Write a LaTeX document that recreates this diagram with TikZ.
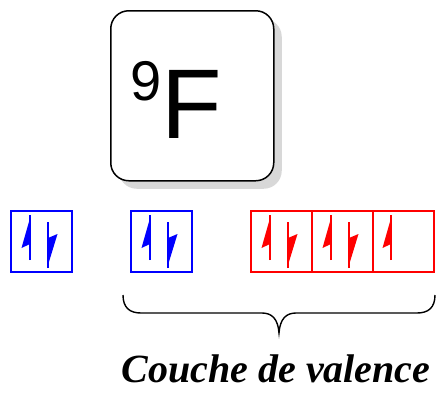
\documentclass[tikz,border=0pt]{standalone}
\usepackage{fontspec}
\setmainfont{Liberation Sans}
\newfontfamily\labelfont{Liberation Serif}
\usetikzlibrary{shadows}
\begin{document}
\begin{tikzpicture}[x=1pt,y=-1pt,
  orb/.style={draw=#1, line width=2pt, minimum width=61pt, minimum height=61pt,
    inner sep=0pt, anchor=north west},
  elembox/.style={draw, line width=1.5pt, rounded corners=18pt, fill=white,
    minimum width=163pt, minimum height=170pt, inner sep=0pt, anchor=north west,
    drop shadow={shadow xshift=8pt, shadow yshift=-8pt, fill=black!30}},
  upe/.pic={\draw[line width=1.8pt] (0,50) -- (0,5);
            \fill (0.9,5) -- (-8.5,38) -- (0,34) -- cycle;},
  dne/.pic={\draw[line width=1.8pt] (0,12) -- (0,58);
            \fill (-0.9,58) -- (9.5,24) -- (0,28) -- cycle;}
]
\useasboundingbox (0,0) rectangle (437,392);

% element box
\node[elembox] (elem) at (110,10) {};
\node[anchor=base west, inner sep=0pt] (sym) at (130,138)
  {\fontsize{99}{99}\selectfont\raisebox{38pt}{\fontsize{56}{56}\selectfont 9}F};

% 1s
\node[orb=blue] (s1) at (10,210) {};
\pic[blue] at (30,210) {upe};
\pic[blue] at (48,210) {dne};

% 2s
\node[orb=blue] (s2) at (130,210) {};
\pic[blue] at (150,210) {upe};
\pic[blue] at (168,210) {dne};

% 2p
\node[orb=red] (p1) at (250,210) {};
\node[orb=red] (p2) at (311,210) {};
\node[orb=red] (p3) at (372,210) {};
\pic[red] at (270,210) {upe};
\pic[red] at (288,210) {dne};
\pic[red] at (331,210) {upe};
\pic[red] at (349,210) {dne};
\pic[red] at (391,210) {upe};

% brace
\coordinate (bl) at (123,295);
\coordinate (br) at (435,295);
\coordinate (bt) at (279,333);
\draw[line width=1.4pt] (bl) .. controls (123,308) and (130,313) .. (141,313)
  -- (262,313) .. controls (272,313) and (278,319) .. (bt)
  .. controls (280,319) and (286,313) .. (296,313)
  -- (417,313) .. controls (428,313) and (435,308) .. (br);

\node[anchor=base, inner sep=0pt] (lab) at (276,382)
  {\labelfont\bfseries\itshape\fontsize{40}{40}\selectfont Couche de valence};
\end{tikzpicture}
\end{document}
